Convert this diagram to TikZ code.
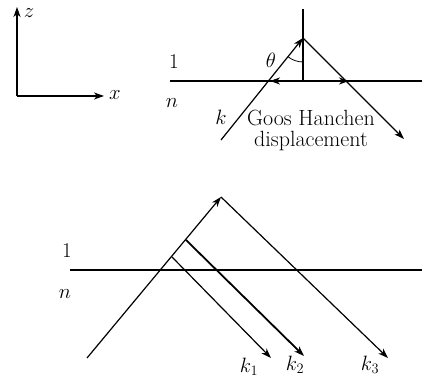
\documentclass[tikz,border=0pt]{standalone}
\usetikzlibrary{arrows.meta}
\begin{document}
\begin{tikzpicture}[x=1pt,y=1pt,
  ray/.style={line width=1.2pt},
  arr/.style={-{Stealth[length=10pt,width=7pt,inset=3pt]}},
  iface/.style={line width=2.5pt},
  lab/.style={font=\fontsize{21}{23}\selectfont, inner sep=0pt}]
\useasboundingbox (0,0) rectangle (429,379);
% axes
\coordinate (O) at (17,283);
\coordinate (Z) at (17,372);
\coordinate (X) at (104,283);
\draw[line width=1.6pt,arr] (O) -- (Z);
\draw[line width=1.6pt,arr] (O) -- (X);
\node[lab] (zl) at (29,366) {$z$};
\node[lab] (xl) at (115,284) {$x$};
% top diagram
\coordinate (IL) at (170,298);
\coordinate (IR) at (422,298);
\coordinate (NT) at (303,370);
\coordinate (F) at (303,298);
\coordinate (A) at (303,341);
\coordinate (S) at (221,239);
\coordinate (E) at (404,240);
\coordinate (GL) at (270,298);
\coordinate (GR) at (349,298);
\draw[iface] (IL) -- (IR);
\draw[ray] (NT) -- (F);
\draw[ray,arr] (S) -- (A);
\draw[ray,arr] (A) -- (E);
\draw[ray,arr] (F) -- (GL);
\draw[ray,arr] (F) -- (GR);
\draw[line width=0.8pt] ([shift={(270:24)}]A) arc (270:230.9:24);
\node[lab] (th) at (271,319) {$\theta$};
\node[lab] (one1) at (174,317) {1};
\node[lab] (n1) at (172,276) {$n$};
\node[lab] (kk) at (221,262) {$k$};
\node[font=\fontsize{22}{21}\selectfont, inner sep=0pt, align=center] (gh) at (311,249) {Goos Hanchen\\displacement};
% bottom diagram
\coordinate (JL) at (70,109);
\coordinate (JR) at (422,109);
\coordinate (B0) at (87,21);
\coordinate (C) at (221,182);
\coordinate (K3) at (388,21);
\coordinate (P1) at (172,122);
\coordinate (K1) at (271,21);
\coordinate (P2) at (186,139);
\coordinate (K2) at (304,23);
\draw[iface] (JL) -- (JR);
\draw[ray,arr] (B0) -- (C);
\draw[ray,arr] (C) -- (K3);
\draw[ray,arr] (P1) -- (K1);
\draw[ray,line width=1.8pt,arr] (P2) -- (K2);
\node[lab] (one2) at (67,128) {1};
\node[lab] (n2) at (65,85) {$n$};
\node[lab] (k1) at (249,12) {$k_1$};
\node[lab] (k2) at (295,14) {$k_2$};
\node[lab] (k3) at (370,14) {$k_3$};
\end{tikzpicture}
\end{document}
